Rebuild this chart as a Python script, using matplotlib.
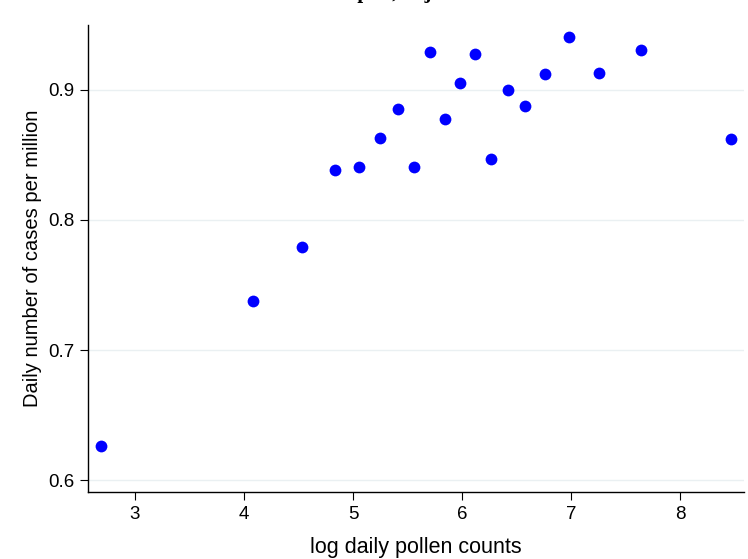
import matplotlib.pyplot as plt

# binned points: log pollen counts vs daily cases per million
log_pollen = [2.69, 4.08, 4.53, 4.835, 5.055, 5.25, 5.41, 5.56, 5.705, 5.845,
              5.98, 6.12, 6.265, 6.42, 6.58, 6.76, 6.98, 7.26, 7.64, 8.47]
cases = [0.626, 0.738, 0.779, 0.8385, 0.841, 0.863, 0.885, 0.841, 0.929, 0.878,
         0.905, 0.928, 0.847, 0.900, 0.888, 0.912, 0.941, 0.913, 0.931, 0.862]

xticks = [3, 4, 5, 6, 7, 8]
yticks = [0.6, 0.7, 0.8, 0.9]

plt.rcParams['font.family'] = ['Liberation Sans', 'DejaVu Sans']

fig = plt.figure(figsize=(7.48, 5.59), dpi=100)
ax = fig.add_axes([0.1176, 0.1199, 0.8771, 0.8354])

ax.scatter(log_pollen, cases, s=72, color='#0000ff', zorder=3, linewidths=0)

ax.set_xlim(2.569, 8.587)
ax.set_ylim(0.5908, 0.95)
ax.set_xticks(xticks)
ax.set_yticks(yticks)
ax.set_yticklabels(['0.6', '0.7', '0.8', '0.9'])
ax.tick_params(labelsize=13.5, length=6, width=0.8, color='black', pad=4)
ax.yaxis.grid(True, color='#eaf0f2', linewidth=1)
ax.set_axisbelow(True)

for side in ['top', 'right']:
    ax.spines[side].set_visible(False)
for side in ['left', 'bottom']:
    ax.spines[side].set_linewidth(1.0)

ax.set_xlabel('log daily pollen counts', fontsize=15.5, labelpad=10)
ax.set_ylabel('Daily number of cases per million', fontsize=14.5, labelpad=4)

# title sits mostly above the canvas, as in the original export
fig.text(0.47, 1 + 2 / 559, 'Binned scatter plot, adjusted', ha='center',
         va='baseline', fontsize=15, fontweight='bold',
         family=['Liberation Serif', 'DejaVu Serif'])

fig.savefig('out.png', dpi=100)
